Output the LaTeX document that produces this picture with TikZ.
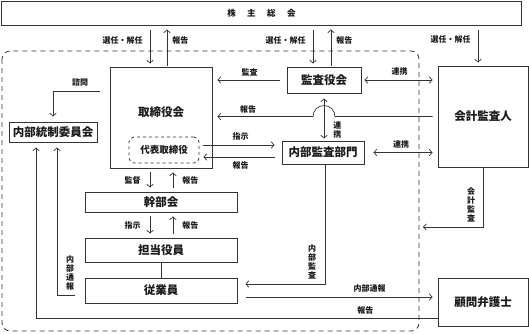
\documentclass[tikz,border=0pt]{standalone}
\usepackage{fontspec}
\setmainfont{Noto Sans CJK JP}
\usetikzlibrary{arrows.meta, positioning, calc}
\definecolor{sline}{HTML}{333333}
\definecolor{stext}{HTML}{1A1A1A}
\tikzset{
  >={Straight Barb[length=3pt,width=6.5pt]},
  box/.style={
    draw=sline, fill=white, line width=0.8pt, text=stext, inner sep=0pt,
    font=\fontsize{11.5}{13}\selectfont\bfseries
  },
  ttl/.style={box, draw=none, fill=none},
  rep/.style={box, dashed, rounded corners=5pt, font=\fontsize{9.5}{11}\selectfont\bfseries},
  arr/.style={->, draw=sline, line width=0.7pt, shorten >=4pt, shorten <=3pt},
  dlink/.style={arr, <->},
  plain/.style={draw=sline, line width=0.7pt},
  lab/.style={font=\fontsize{8}{9}\selectfont\bfseries, text=stext, inner sep=1pt},
  vlab/.style={lab, align=center, font=\fontsize{8}{9}\selectfont\bfseries}
}
\begin{document}
\begin{tikzpicture}[x=1pt,y=-1pt]
  \useasboundingbox (0,0) rectangle (529,333);
  % group frame
  \draw[sline, line width=0.8pt, dash pattern=on 5pt off 4pt, rounded corners=8pt] (2,51) rectangle (419,331);

  \node[box,minimum width=520pt,minimum height=24pt,font=\fontsize{8.5}{10}\selectfont\bfseries] (soukai) at (261.5,13)
    {株\hspace{11.5pt}主\hspace{11.5pt}総\hspace{11.5pt}会};
  \node[box,minimum width=102pt,minimum height=101pt] (tori) at (161,117.5) {};
  \node[ttl] (toriname) at (161,112) {取締役会};
  \node[rep,minimum width=70pt,minimum height=26pt] (daihyo) at (164,150) {代表取締役};
  \node[box,minimum width=88pt,minimum height=20pt] (tousei) at (53,132) {内部統制委員会};
  \node[box,minimum width=74pt,minimum height=26pt] (kansayaku) at (324,80) {監査役会};
  \node[box,minimum width=90pt,minimum height=101pt] (kaikei) at (483,116.5) {会計監査人};
  \node[box,minimum width=82pt,minimum height=23pt] (naibu) at (323,152.5) {内部監査部門};
  \node[box,minimum width=152pt,minimum height=20pt] (kanbu) at (161,202) {幹部会};
  \node[box,minimum width=152pt,minimum height=24pt] (tanto) at (161,250) {担当役員};
  \node[box,minimum width=152pt,minimum height=25pt] (jugyo) at (161,290.5) {従業員};
  \node[box,minimum width=90pt,minimum height=48pt] (komon) at (483,302) {顧問弁護士};

  % shareholders
  \draw[arr,shorten <=5pt,shorten >=3pt] ([xshift=-11pt]tori.north |- soukai.south) -- ([xshift=-11pt]tori.north)
    node[lab,left=6pt,pos=0.36] {選任・解任};
  \draw[arr,shorten <=1pt] ([xshift=6pt]tori.north) -- ([xshift=6pt]tori.north |- soukai.south)
    node[lab,right=4pt,pos=0.64] {報告};
  \draw[arr,shorten <=5pt,shorten >=3pt] ([xshift=-11pt]kansayaku.north |- soukai.south) -- ([xshift=-11pt]kansayaku.north)
    node[lab,left=6pt,pos=0.36] {選任・解任};
  \draw[arr,shorten <=1pt] ([xshift=7pt]kansayaku.north) -- ([xshift=7pt]kansayaku.north |- soukai.south)
    node[lab,right=4pt,pos=0.64] {報告};
  \draw[arr,shorten <=5pt,shorten >=3pt] ([xshift=-5pt]kaikei.north |- soukai.south) -- ([xshift=-5pt]kaikei.north)
    node[lab,left=6pt,pos=0.36] {選任・解任};

  % audit links
  \draw[arr,shorten <=7pt,shorten >=5pt] (kansayaku.west) -- (kansayaku.west -| tori.east)
    node[lab,above=3pt,midway] {監査};
  \draw[dlink,shorten <=3pt,shorten >=5pt] (kansayaku.east) -- (kansayaku.east -| kaikei.west)
    node[lab,above=3pt,midway] {連携};
  \draw[arr,shorten <=5pt,shorten >=5pt] (kaikei.west) -- ([xshift=11pt]kansayaku.south |- kaikei.west)
    arc[start angle=0,end angle=180,radius=11pt] -- (kaikei.west -| tori.east);
  \node[lab] (kaikeirep) at (248,109) {報告};
  \draw[dlink,shorten <=5pt,shorten >=2pt] (kansayaku.south) -- (kansayaku.south |- naibu.north)
    node[vlab,right=8pt,pos=0.77] {連\\携};
  \draw[arr,shorten <=4pt,shorten >=7pt] ([yshift=5pt]daihyo.east) -- ([yshift=5pt]daihyo.east -| naibu.west)
    node[lab,above=3pt,midway] {指示};
  \draw[arr,shorten <=7pt,shorten >=4pt] ([yshift=-7pt]daihyo.east -| naibu.west) -- ([yshift=-7pt]daihyo.east)
    node[lab,below=3pt,midway] {報告};
  \draw[dlink,shorten <=9pt,shorten >=5pt] (naibu.east) -- (naibu.east -| kaikei.west)
    node[lab,above=3pt,midway] {連携};

  % internal audit / accounting audit
  \draw[arr,shorten <=0pt,shorten >=8pt] ([xshift=2pt]naibu.south) |- ([yshift=6.5pt]jugyo.east);
  \node[vlab] (naibulab) at (312,262) {内\\部\\監\\査};
  \coordinate (kaikeiend) at (423,227);
  \draw[arr,shorten <=0pt,shorten >=0pt] (kaikei.south) |- (kaikeiend);
  \node[vlab] (kaikeilab) at (471,205) {会\\計\\監\\査};

  % whistleblowing
  \draw[arr,shorten <=9pt,shorten >=5pt] ([yshift=-6.5pt]jugyo.east) -- ([yshift=-6.5pt]jugyo.east -| komon.west)
    node[lab,above=3pt,pos=0.66] {内部通報};
  \draw[arr,shorten <=0pt,shorten >=5pt] ([yshift=-16pt]komon.west) -| ([xshift=-17pt]tousei.south)
    node[lab,above=2pt,pos=0.09] {報告};
  \draw[arr,shorten <=0pt,shorten >=5pt] ([xshift=-10pt,yshift=-4.5pt]jugyo.west) -| ([xshift=4pt]tousei.south);
  \node[vlab] (tsuhoulab) at (70,273) {内\\部\\通\\報};
  \draw[arr,shorten <=10pt,shorten >=5pt] ([yshift=26.5pt]tori.west) -| (tousei.north)
    node[lab,above=3pt,pos=0.26] {諮問};

  % line of command
  \draw[arr,shorten <=4pt,shorten >=4pt] ([xshift=-11pt]tori.south) -- ([xshift=-11pt]tori.south |- kanbu.north)
    node[lab,left=8pt,midway] {監督};
  \draw[arr,shorten <=4pt,shorten >=4pt] ([xshift=12pt]tori.south |- kanbu.north) -- ([xshift=12pt]tori.south)
    node[lab,right=8pt,midway] {報告};
  \draw[arr,shorten <=4pt,shorten >=4pt] ([xshift=-11pt]kanbu.south) -- ([xshift=-11pt]kanbu.south |- tanto.north)
    node[lab,left=8pt,midway] {指示};
  \draw[arr,shorten <=4pt,shorten >=4pt] ([xshift=12pt]kanbu.south |- tanto.north) -- ([xshift=12pt]kanbu.south)
    node[lab,right=8pt,midway] {報告};
  \draw[plain] (tanto.south) -- (jugyo.north);
\end{tikzpicture}
\end{document}
